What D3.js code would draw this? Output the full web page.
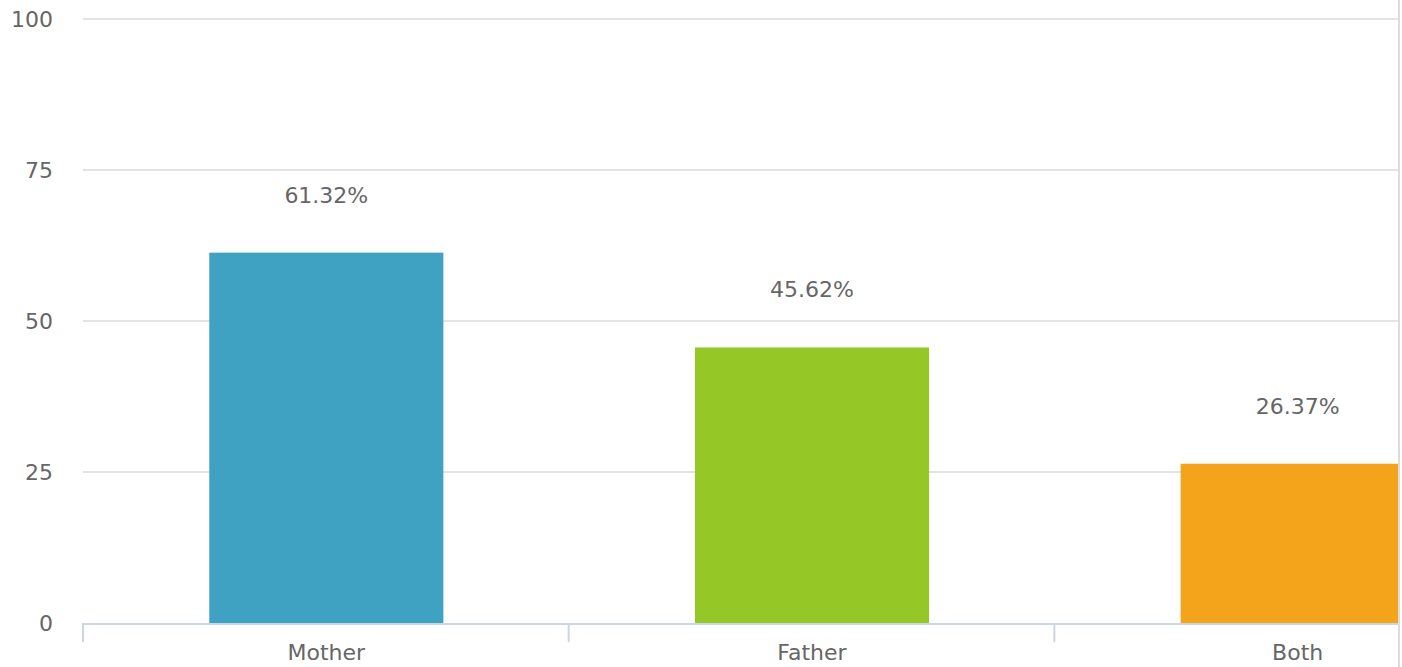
<!DOCTYPE html>
<html>
<head>
<meta charset="utf-8">
<script src="https://cdn.jsdelivr.net/npm/d3@7"></script>
<style>
  body { margin: 0; background: #fff; }
  svg { display: block; font-family: "DejaVu Sans", Verdana, sans-serif; }
</style>
</head>
<body>
<div id="chart"></div>
<script>
const categories = ["Mother", "Father", "Both"];
const values = [61.32, 45.62, 26.37];
const colors = ["#40a2c2", "#95c826", "#f4a41b"];
const yTicks = [0, 25, 50, 75, 100];

const W = 1402, H = 667;
const plotLeft = 83, plotTop = 19, plotBottom = 623, clipRight = 1398;
const step = 486;

const svg = d3.select("#chart").append("svg")
    .attr("width", W)
    .attr("height", H);

const x = d3.scaleBand()
    .domain(categories)
    .range([plotLeft, plotLeft + step * categories.length])
    .paddingInner(0.518)
    .paddingOuter(0.26);

const y = d3.scaleLinear()
    .domain([0, 100])
    .range([plotBottom, plotTop]);

svg.append("defs").append("clipPath")
    .attr("id", "plot-clip")
    .append("rect")
    .attr("x", 0).attr("y", 0)
    .attr("width", clipRight).attr("height", H);

// gridlines
svg.append("g")
    .selectAll("line")
    .data(yTicks.filter(d => d > 0))
    .enter()
    .append("line")
    .attr("x1", plotLeft)
    .attr("x2", clipRight)
    .attr("y1", d => y(d))
    .attr("y2", d => y(d))
    .attr("stroke", "#e3e3e3")
    .attr("stroke-width", 2);

// y labels
svg.append("g")
    .selectAll("text")
    .data(yTicks)
    .enter()
    .append("text")
    .attr("x", 53)
    .attr("y", d => y(d) + 8)
    .attr("text-anchor", "end")
    .attr("font-size", "22px")
    .attr("fill", "#666")
    .text(d => d);

const plot = svg.append("g").attr("clip-path", "url(#plot-clip)");

plot.selectAll("rect.bar")
    .data(values)
    .enter()
    .append("rect")
    .attr("class", "bar")
    .attr("x", (d, i) => x(categories[i]))
    .attr("y", d => y(d))
    .attr("width", x.bandwidth())
    .attr("height", d => y(0) - y(d))
    .attr("fill", (d, i) => colors[i]);

// x axis line + ticks
plot.append("line")
    .attr("x1", plotLeft)
    .attr("x2", clipRight)
    .attr("y1", plotBottom + 1)
    .attr("y2", plotBottom + 1)
    .attr("stroke", "#ccd6e3")
    .attr("stroke-width", 2);

plot.selectAll("line.tick")
    .data(d3.range(categories.length + 1))
    .enter()
    .append("line")
    .attr("class", "tick")
    .attr("x1", i => plotLeft + i * x.step())
    .attr("x2", i => plotLeft + i * x.step())
    .attr("y1", plotBottom)
    .attr("y2", plotBottom + 19)
    .attr("stroke", "#ccd6e3")
    .attr("stroke-width", 2);

// value labels
plot.selectAll("text.value")
    .data(values)
    .enter()
    .append("text")
    .attr("class", "value")
    .attr("x", (d, i) => x(categories[i]) + x.bandwidth() / 2)
    .attr("y", d => y(d) - 50)
    .attr("text-anchor", "middle")
    .attr("font-size", "22px")
    .attr("fill", "#666")
    .text(d => d.toFixed(2) + "%");

// category labels
plot.selectAll("text.cat")
    .data(categories)
    .enter()
    .append("text")
    .attr("class", "cat")
    .attr("x", d => x(d) + x.bandwidth() / 2)
    .attr("y", 660)
    .attr("text-anchor", "middle")
    .attr("font-size", "22px")
    .attr("fill", "#666")
    .text(d => d);

// right border
svg.append("line")
    .attr("x1", clipRight + 1)
    .attr("x2", clipRight + 1)
    .attr("y1", 0)
    .attr("y2", H)
    .attr("stroke", "#dcdcdc")
    .attr("stroke-width", 2);
</script>
</body>
</html>
